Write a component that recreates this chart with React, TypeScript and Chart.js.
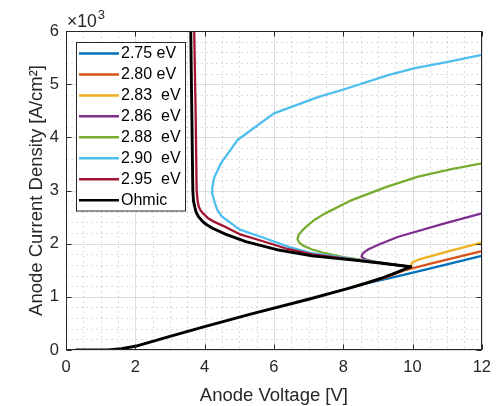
import React, { useEffect, useRef } from 'react';
import { Chart, registerables } from 'chart.js';

Chart.register(...registerables);

const FONT = "'Liberation Sans', Arial, Helvetica, sans-serif";
const TEXT = '#262626';

// Legend labels and colors (MATLAB default palette)
const seriesLabels = ['2.75 eV', '2.80 eV', '2.83  eV', '2.86  eV', '2.88  eV', '2.90  eV', '2.95  eV', 'Ohmic'];
const seriesColors = ['#0072BD', '#D95319', '#EDB120', '#7E2F8E', '#77AC30', '#4DBEEE', '#A2142F', '#000000'];

// Anode voltage [V] and anode current density [A/cm^2]
const v275 = [8.15, 8.7, 9.59, 10.55, 12];
const j275 = [1160, 1260, 1390, 1540, 1770];

const v280 = [8.15, 8.7, 9.2, 9.78, 10.55, 12];
const j280 = [1160, 1265, 1355, 1500, 1630, 1860];

const v283 = [8.15, 9.11, 9.9, 9.96, 10.0, 10.2, 11.0, 12];
const j283 = [1160, 1350, 1555, 1600, 1650, 1705, 1850, 2020];

const v286 = [9.95, 9.3, 8.9, 8.7, 8.58, 8.53, 8.55, 8.62, 8.73, 9.0, 9.3, 9.59, 10.93, 12];
const j286 = [1565, 1620, 1660, 1690, 1725, 1760, 1800, 1845, 1895, 1975, 2055, 2130, 2380, 2570];

const v288 = [9.95, 9.0, 8.6, 8.0, 7.48, 7.1, 6.85, 6.72, 6.68, 6.72, 6.82, 6.95, 7.2, 7.48, 8.25, 9.21, 10.16, 11.12, 12];
const j288 = [1565, 1650, 1690, 1745, 1820, 1890, 1960, 2030, 2090, 2170, 2250, 2330, 2460, 2570, 2820, 3060, 3260, 3400, 3510];

const v290 = [9.95, 9.0, 8.3, 7.1, 6.43, 5.66, 5.0, 4.71, 4.5, 4.37, 4.3, 4.23, 4.22, 4.28, 4.47, 4.95, 6.0, 7.29, 8.01, 9.3, 10.07, 11.02, 12];
const j290 = [1565, 1650, 1710, 1820, 1940, 2120, 2270, 2410, 2510, 2630, 2760, 2920, 3050, 3250, 3510, 3950, 4450, 4760, 4900, 5170, 5300, 5420, 5550];

const v295 = [9.95, 9.0, 8.3, 7.1, 6.4, 5.66, 5.0, 4.52, 4.25, 4.1, 3.94, 3.88, 3.83, 3.8, 3.77, 3.74, 3.70];
const j295 = [1565, 1645, 1700, 1800, 1900, 2050, 2180, 2340, 2420, 2480, 2580, 2630, 2700, 2800, 3000, 4500, 6000];

const vOhmic = [0.3, 1.2, 1.6, 2.0, 3.0, 4.0, 5.3, 7.0, 8.15, 8.7, 9.11, 9.95, 9.0, 8.3, 7.1, 6.14, 5.19, 4.6, 4.23, 4.05, 3.94, 3.83, 3.75, 3.72, 3.68, 3.66, 3.63, 3.60];
const jOhmic = [0, 0, 25, 70, 255, 440, 670, 955, 1160, 1265, 1350, 1565, 1640, 1690, 1770, 1880, 2040, 2180, 2290, 2360, 2420, 2500, 2600, 2680, 2800, 3000, 4500, 6000];

const seriesV = [v275, v280, v283, v286, v288, v290, v295, vOhmic];
const seriesJ = [j275, j280, j283, j286, j288, j290, j295, jOhmic];

const xTitle = 'Anode Voltage [V]';
const yTitle = 'Anode Current Density [A/cm\u00B2]';

const pts = (v: number[], j: number[]) => v.map((x, i) => ({ x, y: j[i] }));

const framePlugin = {
  id: 'matlabFrame',
  beforeDatasetsDraw(chart: any) {
    const { ctx, chartArea: a, scales } = chart;
    const x = scales.x;
    const y = scales.y;
    ctx.save();
    ctx.lineWidth = 1;
    // minor grid (dotted)
    ctx.strokeStyle = 'rgba(38,38,38,0.16)';
    ctx.setLineDash([2, 3]);
    ctx.beginPath();
    for (let k = 0; k <= 24; k++) {
      if (k % 4 === 0) continue;
      const px = Math.round(x.getPixelForValue(k * 0.5)) + 0.5;
      ctx.moveTo(px, a.top);
      ctx.lineTo(px, a.bottom);
    }
    for (let k = 0; k <= 30; k++) {
      if (k % 5 === 0) continue;
      const py = Math.round(y.getPixelForValue(k * 200)) + 0.5;
      ctx.moveTo(a.left, py);
      ctx.lineTo(a.right, py);
    }
    ctx.stroke();
    // major grid
    ctx.setLineDash([]);
    ctx.strokeStyle = 'rgba(38,38,38,0.15)';
    ctx.beginPath();
    x.ticks.forEach((t: any) => {
      const px = Math.round(x.getPixelForValue(t.value)) + 0.5;
      ctx.moveTo(px, a.top);
      ctx.lineTo(px, a.bottom);
    });
    y.ticks.forEach((t: any) => {
      const py = Math.round(y.getPixelForValue(t.value)) + 0.5;
      ctx.moveTo(a.left, py);
      ctx.lineTo(a.right, py);
    });
    ctx.stroke();
    ctx.restore();
  },
  afterDatasetsDraw(chart: any) {
    const { ctx, chartArea: a, scales } = chart;
    const x = scales.x;
    const y = scales.y;
    ctx.save();
    // box
    ctx.strokeStyle = TEXT;
    ctx.lineWidth = 1;
    const L = Math.round(a.left) + 0.5;
    const R = Math.round(a.right) - 0.5;
    const T = Math.round(a.top) + 0.5;
    const B = Math.round(a.bottom) - 0.5;
    ctx.strokeRect(L, T, R - L, B - T);
    // inward ticks
    ctx.beginPath();
    x.ticks.forEach((t: any) => {
      const px = Math.round(x.getPixelForValue(t.value)) + 0.5;
      ctx.moveTo(px, B);
      ctx.lineTo(px, B - 5);
      ctx.moveTo(px, T);
      ctx.lineTo(px, T + 5);
    });
    y.ticks.forEach((t: any) => {
      const py = Math.round(y.getPixelForValue(t.value)) + 0.5;
      ctx.moveTo(L, py);
      ctx.lineTo(L + 5, py);
      ctx.moveTo(R, py);
      ctx.lineTo(R - 5, py);
    });
    ctx.stroke();

    // exponent label
    ctx.fillStyle = TEXT;
    ctx.textAlign = 'left';
    ctx.textBaseline = 'alphabetic';
    ctx.font = `17.5px ${FONT}`;
    ctx.fillText('\u00D710', a.left + 1, a.top - 4);
    const w = ctx.measureText('\u00D710').width;
    ctx.font = `13px ${FONT}`;
    ctx.fillText('3', a.left + 1 + w + 1, a.top - 12);

    // axis titles
    ctx.font = `18.5px ${FONT}`;
    ctx.textAlign = 'center';
    ctx.fillText(xTitle, (a.left + a.right) / 2, 401);
    ctx.save();
    ctx.translate(41.5, (a.top + a.bottom) / 2);
    ctx.rotate(-Math.PI / 2);
    ctx.fillText(yTitle, 0, 0);
    ctx.restore();

    // legend
    const lx = a.left + 10.5;
    const ly = a.top + 11.5;
    const lw = 109;
    const lh = 168.5;
    ctx.fillStyle = '#ffffff';
    ctx.fillRect(lx, ly, lw, lh);
    ctx.strokeStyle = TEXT;
    ctx.lineWidth = 1;
    ctx.strokeRect(lx, ly, lw, lh);
    ctx.font = `16px ${FONT}`;
    ctx.textAlign = 'left';
    ctx.textBaseline = 'middle';
    chart.data.datasets.forEach((ds: any, i: number) => {
      const ry = ly + 11 + i * 20.95;
      ctx.strokeStyle = ds.borderColor;
      ctx.lineWidth = 2.5;
      ctx.beginPath();
      ctx.moveTo(lx + 2.5, ry);
      ctx.lineTo(lx + 42.5, ry);
      ctx.stroke();
      ctx.fillStyle = '#000000';
      ctx.fillText(ds.label, lx + 44.5, ry + 0.5);
    });
    ctx.restore();
  },
};

export default function App() {
  const ref = useRef<HTMLCanvasElement | null>(null);
  useEffect(() => {
    if (!ref.current) return;
    const datasets = seriesLabels.map((label, i) => ({
      label,
      data: pts(seriesV[i], seriesJ[i]),
      borderColor: seriesColors[i],
      backgroundColor: seriesColors[i],
      borderWidth: i === 7 ? 2.9 : 2.3,
      pointRadius: 0,
      showLine: true,
      tension: 0,
      fill: false,
      borderJoinStyle: 'round',
      borderCapStyle: 'round',
      order: 7 - i,
    }));
    const chart = new Chart(ref.current, {
      type: 'scatter',
      data: { datasets },
      options: {
        responsive: false,
        animation: false,
        events: [],
        layout: { padding: { left: 0, right: 15, top: 31, bottom: 0 } },
        plugins: { legend: { display: false }, tooltip: { enabled: false } },
        scales: {
          x: {
            type: 'linear',
            min: 0,
            max: 12,
            grid: { display: false, drawTicks: false },
            border: { display: false },
            ticks: { stepSize: 2, color: TEXT, font: { family: FONT, size: 16.5 }, padding: 8, maxRotation: 0 },
            afterFit: (s: any) => { s.height = 56; },
          },
          y: {
            type: 'linear',
            min: 0,
            max: 6000,
            grid: { display: false, drawTicks: false },
            border: { display: false },
            ticks: {
              stepSize: 1000,
              color: TEXT,
              font: { family: FONT, size: 16.5 },
              padding: 7,
              callback: (v: any) => String(Number(v) / 1000),
            },
            afterFit: (s: any) => { s.width = 66; },
          },
        },
      },
      plugins: [framePlugin],
    } as any);
    return () => chart.destroy();
  }, []);
  return (
    <div style={{ position: 'absolute', left: 0, top: 0, width: 499, height: 406, background: '#fff' }}>
      <canvas ref={ref} width={499} height={406} style={{ display: 'block' }} />
    </div>
  );
}
